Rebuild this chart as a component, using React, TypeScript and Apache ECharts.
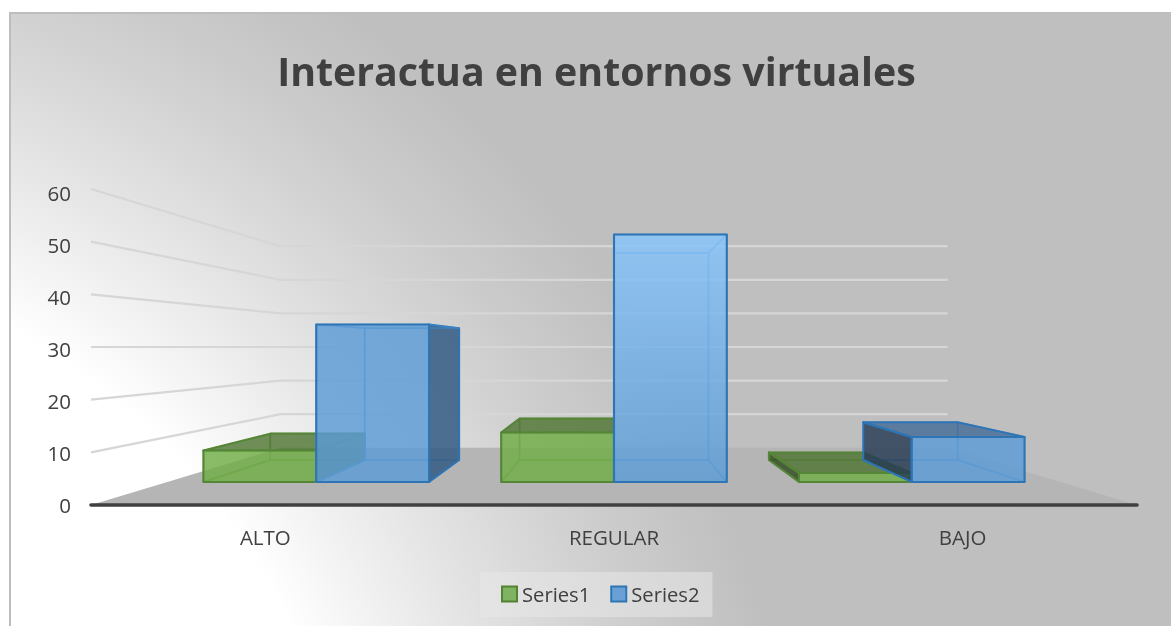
import React, { useEffect, useRef } from "react";
import * as echarts from "echarts";

const TITLE = "Interactua en entornos virtuales";
const categories = ["ALTO", "REGULAR", "BAJO"];
const series1Values = [7, 11, 2];
const series2Values = [35, 55, 10];
const gridValues = [0, 10, 20, 30, 40, 50, 60];
const seriesNames = ["Series1", "Series2"];

const FONT = "'Open Sans', sans-serif";
const TEXT = "#404040";
const S_FRONT = 0.854;
const S_BACK = 0.715;
const S_FAR = 0.638;
const VP_VALUE = 30;

type Palette = {
  front: string; stroke: string; inner: string; top: string; near: string; far: string;
  rgb: string; light: string;
};
const GREEN: Palette = {
  front: "rgba(112,173,71,0.82)", stroke: "#558637", inner: "rgba(88,140,56,0.5)",
  top: "rgba(76,115,48,0.8)", near: "rgba(50,75,32,0.82)", far: "rgba(76,115,48,0.8)",
  rgb: "112,173,71", light: "112,173,71",
};
const BLUE: Palette = {
  front: "rgba(91,155,213,0.82)", stroke: "#2e75b6", inner: "rgba(70,140,205,0.55)",
  top: "rgba(64,105,150,0.78)", near: "rgba(38,58,84,0.82)", far: "rgba(50,90,130,0.85)",
  rgb: "91,155,213", light: "135,197,252",
};

function barItem(slot: number, pal: Palette) {
  return (params: any, api: any) => {
    const cat = api.value(0);
    const v = api.value(1);
    const band = api.size([1, 0])[0];
    const barW = band / 2.64;
    const cs = params.coordSys;
    const cx = cs.x + cs.width / 2;
    const vy = api.coord([0, VP_VALUE])[1];
    const base = api.coord([cat, 0]);
    const top = api.coord([cat, v]);
    const left = base[0] + (slot - 1) * barW;
    const right = left + barW;
    const P = (x: number, y: number, s: number) => [cx + (x - cx) * s, vy + (y - vy) * s];
    const fbl = P(left, base[1], S_FRONT), fbr = P(right, base[1], S_FRONT);
    const ftl = P(left, top[1], S_FRONT), ftr = P(right, top[1], S_FRONT);
    const bbl = P(left, base[1], S_BACK), bbr = P(right, base[1], S_BACK);
    const btl = P(left, top[1], S_BACK), btr = P(right, top[1], S_BACK);

    const poly = (points: number[][], fill: any, stroke: string, lineWidth: number, z2: number) => ({
      type: "polygon", z2, shape: { points }, style: { fill, stroke, lineWidth, lineJoin: "round" },
    });
    const children: any[] = [];
    // hidden faces first: only their edges show through the front
    children.push(poly([bbl, bbr, btr, btl], "rgba(0,0,0,0)", pal.inner, 1.6, 1));
    children.push(poly([fbl, fbr, bbr, bbl], "rgba(0,0,0,0)", pal.inner, 1.6, 2));
    const seeLeft = left > cx + 1;
    const seeRight = right < cx - 1;
    const seeTop = top[1] > vy;
    children.push(poly([fbl, bbl, btl, ftl], seeLeft ? pal.near : "rgba(0,0,0,0)", seeLeft ? pal.stroke : pal.inner, seeLeft ? 2 : 1.6, 3));
    children.push(poly([fbr, bbr, btr, ftr], seeRight ? pal.far : "rgba(0,0,0,0)", seeRight ? pal.stroke : pal.inner, seeRight ? 2 : 1.6, 3));
    children.push(poly([ftl, ftr, btr, btl], seeTop ? pal.top : "rgba(0,0,0,0)", seeTop ? pal.stroke : pal.inner, seeTop ? 2 : 1.6, 4));
    const lift = Math.max(0, Math.min(1, (v - 35) / 20));
    const fill = new echarts.graphic.LinearGradient(0, 0, 0, 1, [
      { offset: 0, color: `rgba(${pal.light},0.82)` },
      { offset: 1, color: `rgba(${pal.rgb},0.82)` },
    ]);
    children.push(poly([fbl, fbr, ftr, ftl], lift > 0 ? fill : pal.front, pal.stroke, 2.1, 5));
    return { type: "group", children };
  };
}

function sceneItem(params: any, api: any) {
  const v = api.value(0);
  const cs = params.coordSys;
  const cx = cs.x + cs.width / 2;
  const vy = api.coord([0, VP_VALUE])[1];
  const y = api.coord([0, v])[1];
  const L = cs.x;
  const R = cs.x + cs.width;
  const P = (x: number, yy: number, s: number) => [cx + (x - cx) * s, vy + (yy - vy) * s];
  if (v === 0) {
    return {
      type: "polygon",
      shape: { points: [[L, y], [R, y], P(R, y, S_FAR), P(L, y, S_FAR)] },
      style: { fill: "#b5b5b5" },
    };
  }
  return {
    type: "polyline",
    shape: { points: [[L, y], P(L, y, S_FAR), P(R, y, S_FAR)] },
    style: { fill: "none", stroke: "#d6d6d6", lineWidth: 2.2 },
  };
}

export default function App() {
  const ref = useRef<HTMLDivElement>(null);
  useEffect(() => {
    const chart = echarts.init(ref.current!, undefined, { renderer: "svg" });
    chart.setOption({
      animation: false,
      textStyle: { fontFamily: FONT },
      title: {
        text: TITLE, left: 591.5, top: 46, textAlign: "center",
        textStyle: { fontFamily: FONT, fontSize: 39.3, fontWeight: 700, color: TEXT },
      },
      graphic: [
        {
          type: "rect", z: -10, silent: true,
          shape: { x: 10, y: 13, width: 1170, height: 620 },
          style: {
            fill: new echarts.graphic.RadialGradient(-300, 900, 1100, [
              { offset: 0, color: "#ffffff" },
              { offset: 0.59, color: "#ffffff" },
              { offset: 0.65, color: "#f4f4f4" },
              { offset: 0.74, color: "#e4e4e4" },
              { offset: 0.8, color: "#dadada" },
              { offset: 0.85, color: "#d2d2d2" },
              { offset: 0.9, color: "#cbcbcb" },
              { offset: 0.95, color: "#c5c5c5" },
              { offset: 1, color: "#bfbfbf" },
            ], true),
            stroke: "#bdbdbd", lineWidth: 2,
          },
        },
      ],
      legend: {
        data: seriesNames, left: 480, top: 572,
        padding: [12, 13, 13, 21], itemGap: 20, itemWidth: 15, itemHeight: 15, icon: "rect",
        backgroundColor: "rgba(232,232,232,0.55)",
        textStyle: { fontFamily: FONT, fontSize: 20.2, color: TEXT },
      },
      grid: [
        { left: 91, right: 34, top: 189, bottom: 121 },
        { left: 91, right: 34, top: 193, bottom: 121 },
      ],
      xAxis: [
        {
          type: "category", gridIndex: 0, data: categories,
          axisTick: { show: false },
          axisLine: { lineStyle: { color: TEXT, width: 3.6, cap: "round" } },
          axisLabel: { fontFamily: FONT, fontSize: 20.5, color: TEXT, margin: 21 },
          z: 10,
        },
        { type: "category", gridIndex: 1, data: categories, show: false },
      ],
      yAxis: [
        { type: "value", gridIndex: 0, min: 0, max: 60, interval: 10, show: false },
        {
          type: "value", gridIndex: 1, min: 0, max: 60, interval: 10,
          splitLine: { show: false }, axisLine: { show: false }, axisTick: { show: false },
          axisLabel: { fontFamily: FONT, fontSize: 20.5, color: TEXT, margin: 20 },
        },
      ],
      series: [
        {
          type: "custom", name: "scene", xAxisIndex: 0, yAxisIndex: 0, z: 1, silent: true,
          data: gridValues.map((v) => [v]), encode: { y: 0 }, renderItem: sceneItem,
        },
        {
          type: "custom", name: seriesNames[0], xAxisIndex: 0, yAxisIndex: 0, z: 2,
          itemStyle: { color: "#7fb261", borderColor: "#548235", borderWidth: 2 },
          data: series1Values.map((v, i) => [i, v]), encode: { x: 0, y: 1 }, renderItem: barItem(0, GREEN),
        },
        {
          type: "custom", name: seriesNames[1], xAxisIndex: 0, yAxisIndex: 0, z: 3,
          itemStyle: { color: "#6ba0d6", borderColor: "#2e75b6", borderWidth: 2 },
          data: series2Values.map((v, i) => [i, v]), encode: { x: 0, y: 1 }, renderItem: barItem(1, BLUE),
        },
      ],
    });
    return () => chart.dispose();
  }, []);
  return <div ref={ref} style={{ position: "fixed", left: 0, top: 0, width: 1171, height: 626 }} />;
}
